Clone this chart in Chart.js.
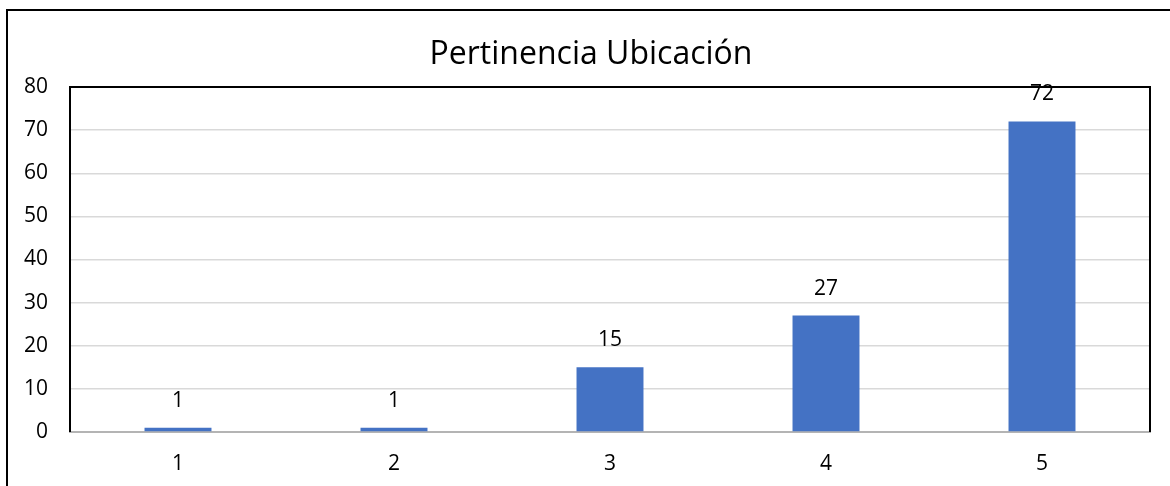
<!DOCTYPE html>
<html>
<head>
<meta charset="utf-8">
<script src="https://cdn.jsdelivr.net/npm/chart.js@4/dist/chart.umd.min.js"></script>
<style>
  html, body { margin: 0; padding: 0; background: #fff; }
  #frame { position: absolute; left: 6px; top: 9px; width: 1220px; height: 540px; border: 2px solid #000; box-sizing: border-box; }
  #chart { position: absolute; left: 0; top: 0; }
</style>
</head>
<body>
<div id="frame"></div>
<canvas id="chart" width="1170" height="486"></canvas>
<script>
var categories = ["1", "2", "3", "4", "5"];
var counts = [1, 1, 15, 27, 72];
var yMax = 80;
var yStep = 10;
var titleText = "Pertinencia Ubicación";

var FONT = "'Open Sans', 'Noto Sans', sans-serif";

// black frame round the plot area (left, top, right)
var plotFrame = {
  id: "plotFrame",
  afterLayout: function(chart) {
    // the title sits a little right of the canvas centre in the original
    if (chart.titleBlock) {
      chart.titleBlock.left += 16;
      chart.titleBlock.right += 16;
    }
  },
  afterDraw: function(chart) {
    var a = chart.chartArea;
    var ctx = chart.ctx;
    ctx.save();
    ctx.strokeStyle = "#000";
    ctx.lineWidth = 2;
    ctx.beginPath();
    ctx.moveTo(a.left, a.bottom);
    ctx.lineTo(a.left, a.top);
    ctx.lineTo(a.right, a.top);
    ctx.lineTo(a.right, a.bottom);
    ctx.stroke();
    ctx.restore();
  }
};

// value labels over each bar
var valueLabels = {
  id: "valueLabels",
  afterDatasetsDraw: function(chart) {
    var ctx = chart.ctx;
    var meta = chart.getDatasetMeta(0);
    ctx.save();
    ctx.font = "21px " + FONT;
    ctx.fillStyle = "#000";
    ctx.textAlign = "center";
    ctx.textBaseline = "middle";
    meta.data.forEach(function(bar, i) {
      ctx.fillText(String(counts[i]), bar.x, bar.y - 27);
    });
    ctx.restore();
  }
};

new Chart(document.getElementById("chart").getContext("2d"), {
  type: "bar",
  data: {
    labels: categories,
    datasets: [{
      data: counts,
      backgroundColor: "#4472c4",
      borderWidth: 0,
      categoryPercentage: 1,
      barPercentage: 0.31
    }]
  },
  options: {
    responsive: false,
    animation: false,
    layout: { padding: { left: 0, right: 20, top: 0, bottom: 0 } },
    plugins: {
      legend: { display: false },
      tooltip: { enabled: false },
      title: {
        display: true,
        text: titleText,
        color: "#000",
        font: { family: FONT, size: 32, weight: "normal", lineHeight: 1.2 },
        padding: { top: 36, bottom: 12.6 }
      }
    },
    scales: {
      x: {
        offset: true,
        grid: { display: false, drawTicks: false },
        border: { display: true, color: "#b4b4b4", width: 2 },
        ticks: { color: "#000", padding: 19, font: { family: FONT, size: 21 } },
        afterFit: function(scale) { scale.height = 54; }
      },
      y: {
        min: 0,
        max: yMax,
        grid: { color: "#d9d9d9", lineWidth: 1.5, drawTicks: false },
        border: { display: false },
        ticks: { stepSize: yStep, color: "#000", padding: 22, font: { family: FONT, size: 21 } },
        afterFit: function(scale) { scale.width = 70; }
      }
    }
  },
  plugins: [plotFrame, valueLabels]
});
</script>
</body>
</html>
